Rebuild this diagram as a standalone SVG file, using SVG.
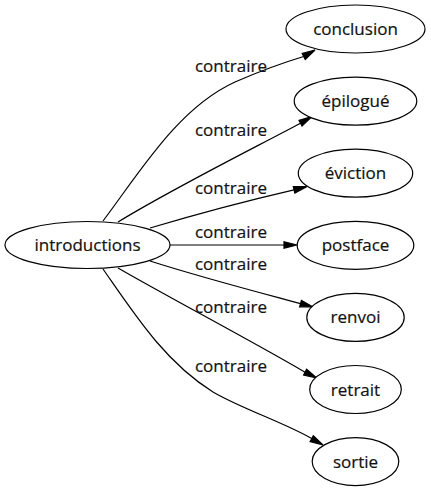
<svg xmlns="http://www.w3.org/2000/svg" width="431" height="491" viewBox="0 0 431 491">
<defs>
<style>
.node ellipse{fill:#fff;stroke:#000;stroke-width:1.2}
.node text{font-family:"Open Sans","DejaVu Sans",sans-serif;font-size:17px;fill:#111;stroke:#111;stroke-width:0.2;text-anchor:middle}
.edges path{fill:none;stroke:#000;stroke-width:1.2}
.edges polygon{fill:#000;stroke:#000;stroke-width:1.2}
.edges text{font-family:"Open Sans","DejaVu Sans",sans-serif;font-size:17px;fill:#111;stroke:#111;stroke-width:0.2;text-anchor:middle}
</style>
</defs>
<rect width="431" height="491" fill="#fff"/>
<g class="edges" id="edges">
<path d="M103,221 C140,172 178,108 235,82 C258,72 282,63 303.7,56.5"/>
<polygon points="315,50 302.2,53.5 305.2,59.4"/>
<text x="231" y="72">contraire</text>
<path d="M118,222 C170,190 250,150 300.5,123.2"/>
<polygon points="311.7,116.7 299,120.3 302,126.1"/>
<text x="231" y="136">contraire</text>
<path d="M150,228 C200,213 250,200 294,189.8"/>
<polygon points="306.7,186.7 293.3,186.5 294.8,193"/>
<text x="231" y="194">contraire</text>
<path d="M170,245 L284,245"/>
<polygon points="297,245 284,241.7 284,248.3"/>
<text x="231" y="238">contraire</text>
<path d="M150,261 C200,277 250,290 300.5,303.6"/>
<polygon points="313,307 301.4,300.4 299.6,306.8"/>
<text x="231" y="270">contraire</text>
<path d="M118,268 C170,298 250,340 305,372.2"/>
<polygon points="316.7,378 306.6,369.1 303.6,375"/>
<text x="231" y="313">contraire</text>
<path d="M103,269 C135,315 165,362 213,392 C240,408 285,423 311.7,438.6"/>
<polygon points="323,445 313.3,435.7 310.1,441.5"/>
<text x="231" y="372">contraire</text>
</g>
<g class="node" id="introductions">
<ellipse cx="87.5" cy="245" rx="82.5" ry="23.5"/>
<text x="87.5" y="251">introductions</text>
</g>
<g class="node" id="conclusion">
<ellipse cx="355.5" cy="29" rx="69.5" ry="24"/>
<text x="355.5" y="35">conclusion</text>
</g>
<g class="node" id="epilogue">
<ellipse cx="355.5" cy="101.1" rx="61.3" ry="24"/>
<text x="355.5" y="107.1">épilogué</text>
</g>
<g class="node" id="eviction">
<ellipse cx="355.5" cy="173.2" rx="57.2" ry="24"/>
<text x="355.5" y="179.2">éviction</text>
</g>
<g class="node" id="postface">
<ellipse cx="355.5" cy="245.3" rx="58.3" ry="24"/>
<text x="355.5" y="251.3">postface</text>
</g>
<g class="node" id="renvoi">
<ellipse cx="355.5" cy="317.4" rx="48.7" ry="24"/>
<text x="355.5" y="323.4">renvoi</text>
</g>
<g class="node" id="retrait">
<ellipse cx="355.5" cy="389.5" rx="45.8" ry="24"/>
<text x="355.5" y="395.5">retrait</text>
</g>
<g class="node" id="sortie">
<ellipse cx="355.5" cy="461.6" rx="43.3" ry="24"/>
<text x="355.5" y="467.6">sortie</text>
</g>
</svg>
